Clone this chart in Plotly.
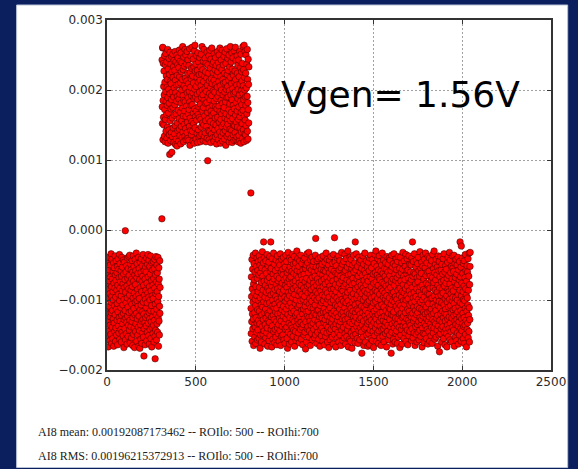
import numpy as np
import plotly.graph_objects as go

# ---- data (AI8 samples, values in units of 1e-5 V) ----
Y_UNIT = 1e-5

seg1_x0 = 0
seg1_y = [
    -112, -45, -153, -78, -131, -62, -98, -167, -39, -120, -85, -144, -57, -109, -73, -158, -91, -136, -50, -124,
    -67, -149, -103, -34, -118, -81, -162, -95, -42, -139, -70, -115, -155, -88, -59, -127, -100, -47, -166, -76,
    -133, -54, -108, -145, -83, -37, -121, -64, -159, -96, -140, -72, -44, -113, -150, -86, -61, -129, -105, -52,
    -164, -79, -117, -41, -137, -92, -56, -147, -68, -125, -35, -101, -156, -83, -48, -130, -74, -111, -142, -58,
    -94, -160, -66, -122, -39, -146, -87, -53, -134, -107, -77, -151, -43, -119, -63, -168, -99, -128, -46, -82,
    -141, -71, -115, -1, -157, -89, -126, -60, -104, -148, -51, -132, -80, -163, -97, -40, -123, -69, -110, -152,
    -55, -136, -84, -38, -118, -65, -143, -93, -36, -129, -75, -161, -102, -49, -138, -86, -57, -116, -154, -70,
    -106, -44, -131, -81, -165, -60, -125, -97, -37, -149, -73, -112, -52, -140, -90, -168, -64, -121, -42, -103,
    -78, -145, -58, -134, -95, -33, -119, -159, -68, -101, -48, -127, -85, -150, -62, -109, -139, -39, -92, -166,
    -123, -55, -98, -144, -71, -169, -114, -46, -135, -82, -156, -61, -107, -41, -130, -88, -162, -74, -117, -51,
    -147, -66, -128, -35, -103, -153, -79, -120, -180, -58, -141, -93, -44, -132, -70, -164, -99, -53, -125, -86,
    -60, -137, -111, -40, -158, -76, -104, -146, -49, -122, -90, -35, -133, -67, -151, -96, -43, -118, -163, -81,
    -127, -52, -100, -142, -63, -115, -37, -155, -87, -131, -72, -108, -167, -47, -139, -94, -57, -124, -79, -148,
    -98, -45, -136, -69, -116, -160, -55, -129, -83, -42, -152, -184, -106, -64, -143, -91, -38, -121, -74, -157,
    -113, -50, -134, -88, -61, -146, -102, -39, -125, -77, -166, -95, -54, -130, -70, -150, -109, -44, -119, -82,
]

seg2_x0 = 309
seg2_y = [
    16, 243, 176, 152, 260, 261, 129, 185, 238, 161, 205,
    150, 227, 193, 134, 249, 172, 211, 126, 236, 158, 198, 252, 141, 183, 220, 165, 240, 131, 204, 178,
    215, 147, 258, 189, 124, 230, 167, 201, 143, 245, 181, 136, 222, 108, 195, 254, 156, 212, 128, 237,
    173, 209, 139, 248, 186, 111, 226, 160, 197, 133, 251, 175, 218, 146, 233, 190, 125, 242, 164, 203,
    137, 228, 179, 255, 149, 214, 122, 196, 240, 166, 130, 207, 184, 250, 120, 221, 153, 191, 236, 142,
    246, 171, 208, 127, 232, 187, 159, 257, 144, 219, 194, 135, 241, 168, 210, 123, 253, 181, 148, 226,
    200, 156, 239, 132, 215, 174, 262, 140, 192, 229, 163, 126, 247, 185, 206, 151, 234, 170, 134, 258,
    183, 217, 145, 202, 250, 162, 129, 237, 177, 213, 139, 255, 196, 154, 224, 131, 243, 189, 166, 209,
    128, 235, 172, 198, 148, 259, 183, 121, 225, 160, 204, 142, 248, 178, 216, 136, 192, 231, 155, 261,
    179, 141, 220, 196, 127, 244, 167, 210, 152, 233, 188, 124, 256, 173, 201, 264, 146, 227, 162, 190,
    237, 130, 205, 170, 249, 157, 218, 138, 194, 228, 125, 186, 253, 165, 211, 143, 240, 176, 132, 222,
    161, 197, 246, 135, 214, 180, 126, 233, 158, 206, 251, 147, 189, 223, 137, 262, 171, 200, 153, 229,
    193, 128, 241, 175, 212, 150, 258, 185, 134, 220, 163, 202, 245, 139, 181, 226, 156, 126, 238, 198,
    148, 217, 182, 254, 131, 207, 168, 99, 236, 190, 142, 224, 159, 249, 174, 129, 213, 195, 141, 257,
    186, 231, 155, 203, 125, 244, 170, 216, 137, 192, 260, 164, 209, 146, 237, 178, 132, 225, 199, 152,
    240, 167, 127, 214, 184, 252, 143, 197, 229, 160, 133, 246, 176, 208, 150, 235, 188, 123, 221, 173,
    136, 204, 255, 161, 226, 191, 145, 239, 129, 212, 177, 250, 154, 196, 232, 140, 260, 169, 206, 124,
    219, 158, 185, 243, 134, 200, 166, 229, 148, 257, 181, 127, 215, 193, 139, 236, 171, 210, 152, 248,
    175, 130, 224, 197, 160, 254, 142, 211, 183, 121, 238, 166, 201, 147, 259, 189, 134, 222, 157, 205,
    245, 151, 190, 228, 137, 214, 172, 250, 126, 199, 163, 233, 180, 144, 218, 262, 156, 193, 131, 240,
    168, 209, 142, 253, 186, 125, 230, 159, 202, 246, 136, 178, 221, 150, 195, 128, 256, 173, 212, 149,
    227, 139, 197, 261, 164, 215, 129, 242, 182, 154, 207, 133, 249, 170, 224, 147, 188, 236, 126, 201,
    158, 243, 176, 135, 219, 193, 127, 255, 162, 208, 145, 232, 184, 124, 251, 168, 199, 140, 226, 179,
    213, 152, 238, 131, 195, 262, 171, 206, 143, 229, 186, 126, 264, 163, 218, 137, 200, 255, 157, 190,
    136, 224, 178, 250, 149, 203, 128, 237, 166, 191, 258, 141, 215, 182, 130, 244, 172, 208, 153, 233,
]

seg3_x0 = 810
seg3_y = [
    53, -112, -148, -67, -95, -131, -42, -159, -84, -120, -56, -141, -103, -36, -127, -77, -165, -90, -48, -136,
    -71, -118, -153, -60, -99, -139, -33, -108, -162, -81, -125, -52, -146, -94, -40, -133, -69, -157, -114, -58,
    -143, -88, -45, -129, -101, -64, -155, -37, -116, -82, -134, -50, -169, -97, -61, -150, -123, -43, -107, -75,
    -160, -54, -121, -92, -138, -31, -110, -66, -149, -86, -128, -47, -17, -102, -144, -73, -118, -39, -163, -96,
    -57, -135, -79, -113, -154, -44, -126, -89, -62, -147, -105, -35, -140, -72, -119, -166, -83, -51, -130, -98,
    -121, -46, -158, -87, -68, -132, -104, -38, -151, -76, -115, -59, -17, -93, -142, -55, -124, -80, -167, -109,
    -41, -137, -74, -100, -156, -63, -122, -90, -33, -145, -111, -70, -128, -49, -161, -85, -106, -142, -58, -117,
    -95, -153, -43, -131, -78, -112, -164, -66, -99, -37, -140, -84, -120, -54, -148, -73, -135, -46, -103, -159,
    -69, -126, -88, -50, -144, -107, -34, -119, -165, -81, -130, -60, -97, -152, -42, -114, -76, -138, -91, -56,
    -150, -64, -123, -39, -109, -86, -157, -71, -134, -48, -117, -96, -162, -53, -141, -79, -102, -36, -127, -68,
    -113, -45, -139, -82, -155, -61, -98, -169, -74, -121, -32, -146, -89, -108, -57, -133, -70, -163, -94, -40,
    -125, -77, -53, -149, -104, -67, -136, -43, -118, -87, -160, -59, -111, -140, -35, -97, -128, -75, -152, -49,
    -84, -143, -62, -116, -38, -131, -92, -166, -55, -105, -73, -145, -47, -122, -81, -158, -100, -64, -137, -30,
    -119, -58, -154, -86, -41, -129, -110, -68, -147, -94, -52, -134, -76, -161, -107, -44, -124, -88, -60, -142,
    -101, -36, -132, -79, -156, -65, -115, -92, -48, -139, -71, -120, -164, -57, -99, -135, -42, -113, -83, -150,
    -63, -127, -95, -40, -146, -74, -109, -55, -170, -87, -131, -50, -117, -160, -69, -103, -34, -141, -80, -122,
    -47, -138, -90, -116, -61, -153, -32, -125, -78, -106, -144, -54, -98, -130, -72, -165, -43, -111, -89, -136,
    -85, -57, -148, -102, -39, -123, -68, -157, -94, -51, -133, -112, -76, -45, -142, -82, -119, -60, -154, -97,
    -128, -66, -107, -36, -150, -12, -88, -121, -53, -138, -79, -162, -100, -44, -115, -70, -146, -91, -58, -131,
    -41, -114, -156, -75, -97, -135, -52, -124, -83, -166, -62, -108, -39, -143, -87, -120, -56, -151, -73, -104,
    -140, -49, -126, -93, -64, -159, -81, -37, -117, -101, -145, -58, -132, -70, -112, -164, -46, -95, -128, -77,
    -59, -152, -86, -118, -33, -136, -105, -67, -147, -42, -123, -90, -160, -54, -99, -139, -74, -114, -50, -168,
    -96, -130, -61, -43, -145, -80, -111, -157, -69, -125, -38, -103, -142, -85, -56, -133, -119, -65, -153, -91,
    -48, -127, -73, -163, -100, -35, -138, -84, -116, -59, -149, -11, -94, -122, -46, -141, -78, -107, -167, -62,
    -134, -88, -51, -119, -97, -155, -70, -40, -129, -109, -63, -146, -82, -124, -37, -160, -101, -57, -136, -76,
    -113, -44, -150, -92, -66, -131, -106, -165, -54, -120, -85, -32, -143, -72, -99, -127, -49, -158, -87, -117,
    -68, -139, -102, -45, -124, -80, -154, -60, -111, -35, -148, -93, -128, -58, -163, -77, -104, -41, -135, -96,
    -152, -71, -117, -53, -143, -89, -30, -126, -101, -167, -64, -137, -82, -48, -120, -156, -74, -108, -39, -132,
    -86, -159, -63, -112, -42, -147, -95, -121, -55, -169, -78, -103, -134, -50, -116, -69, -151, -91, -36, -125,
    -60, -142, -99, -76, -130, -47, -161, -107, -17, -118, -84, -149, -57, -125, -34, -97, -138, -70, -113, -155,
    -93, -52, -133, -81, -162, -66, -115, -39, -144, -104, -75, -128, -46, -157, -88, -120, -61, -140, -98, -43,
    -126, -79, -146, -109, -55, -176, -91, -136, -65, -118, -37, -153, -83, -100, -130, -49, -165, -72, -111, -58,
    -141, -87, -33, -122, -96, -160, -62, -115, -78, -139, -44, -106, -150, -68, -127, -90, -53, -134, -103, -166,
    -73, -119, -46, -148, -85, -131, -58, -101, -164, -40, -124, -93, -143, -67, -112, -36, -155, -81, -129, -97,
    -54, -137, -110, -70, -158, -42, -120, -89, -145, -63, -104, -168, -76, -132, -48, -116, -95, -151, -35, -124,
    -86, -61, -140, -102, -30, -127, -74, -159, -113, -52, -135, -88, -64, -147, -98, -41, -121, -79, -162, -57,
    -109, -144, -68, -37, -131, -92, -154, -71, -118, -45, -138, -100, -59, -165, -84, -126, -50, -107, -142, -75,
    -33, -117, -87, -152, -62, -129, -96, -43, -141, -110, -77, -160, -55, -123, -90, -137, -66, -99, -148, -47,
    -132, -80, -115, -56, -167, -94, -38, -124, -71, -145, -103, -60, -136, -85, -49, -119, -157, -78, -111, -40,
    -97, -150, -65, -128, -43, -113, -82, -139, -58, -106, -176, -74, -121, -36, -146, -91, -53, -134, -101, -163,
    -70, -122, -48, -156, -89, -117, -34, -140, -79, -103, -63, -131, -160, -51, -95, -126, -72, -148, -41, -109,
    -144, -57, -99, -135, -68, -162, -45, -114, -86, -127, -38, -153, -76, -105, -64, -139, -93, -120, -55, -168,
    -83, -130, -39, -108, -150, -73, -119, -61, -142, -96, -47, -163, -88, -125, -56, -112, -32, -137, -78, -101,
    -123, -66, -155, -90, -44, -132, -106, -71, -147, -52, -118, -84, -138, -35, -100, -159, -62, -127, -94, -58,
    -41, -143, -80, -113, -164, -57, -98, -129, -69, -151, -37, -116, -87, -133, -49, -107, -145, -75, -122, -60,
    -136, -92, -50, -124, -71, -158, -104, -40, -141, -82, -17, -119, -66, -154, -97, -45, -130, -110, -61, -147,
    -89, -34, -126, -102, -165, -63, -115, -77, -138, -53, -95, -149, -43, -121, -84, -160, -68, -109, -135, -48,
    -118, -74, -146, -39, -99, -131, -58, -157, -88, -112, -66, -143, -31, -125, -81, -103, -152, -55, -136, -93,
    -62, -128, -46, -114, -167, -79, -140, -100, -52, -123, -36, -148, -85, -117, -70, -161, -96, -42, -133, -107,
    -149, -54, -120, -87, -33, -137, -65, -110, -155, -76, -127, -47, -101, -142, -60, -118, -91, -163, -38, -130,
    -78, -105, -145, -59, -124, -92, -40, -159, -83, -116, -66, -134, -50, -98, -151, -72, -113, -139, -44, -121,
    -97, -162, -68, -35, -128, -106, -82, -147, -55, -119, -75, -140, -30, -94, -131, -61, -156, -110, -86, -49,
    -134, -71, -115, -153, -42, -100, -126, -64, -143, -89, -53, -122, -166, -79, -108, -37, -137, -95, -58, -150,
    -102, -45, -174, -83, -129, -67, -111, -148, -38, -120, -93, -57, -141, -74, -160, -104, -49, -132, -85, -116,
    -63, -138, -90, -41, -125, -155, -72, -107, -34, -146, -80, -119, -60, -164, -98, -130, -51, -113, -142, -76,
    -121, -56, -148, -94, -167, -69, -103, -136, -46, -127, -85, -39, -152, -110, -65, -141, -88, -124, -32, -99,
    -157, -77, -43, -133, -108, -61, -145, -91, -118, -52, -160, -83, -126, -70, -101, -37, -139, -96, -54, -114,
    -87, -143, -59, -122, -36, -105, -166, -74, -130, -48, -112, -153, -68, -97, -135, -42, -120, -81, -158, -63,
    -128, -50, -100, -147, -78, -117, -39, -137, -92, -163, -57, -109, -131, -71, -150, -45, -124, -86, -17, -104,
    -67, -141, -115, -53, -159, -23, -94, -127, -76, -144, -40, -106, -134, -62, -119, -88, -155, -48, -99, -138,
    -80, -125, -44, -162, -101, -68, -136, -112, -35, -149, -84, -58, -129, -93, -167, -73, -116, -51, -142, -97,
    -60, -133, -107, -41, -154, -86, -122, -66, -145, -33, -111, -160, -78, -128, -52, -32,
]

x_tick_vals = [0, 500, 1000, 1500, 2000, 2500]
y_tick_vals = [-0.002, -0.001, 0.0, 0.001, 0.002, 0.003]

title_text = "Vgen= 1.56V"
info_lines = [
    "AI8 mean: 0.00192087173462 -- ROIlo: 500 -- ROIhi:700",
    "AI8 RMS: 0.00196215372913 -- ROIlo: 500 -- ROIhi:700",
]

# ---- assemble ----
xs, ys = [], []
for x0, seg in ((seg1_x0, seg1_y), (seg2_x0, seg2_y), (seg3_x0, seg3_y)):
    xs.extend(range(x0, x0 + len(seg)))
    ys.extend(v * Y_UNIT for v in seg)

W, H = 578, 469
L, R, T, B = 107, 19, 20, 99
pw, ph = W - L - R, H - T - B


def px_x(p):
    return (p - L) / pw


def px_y(p):
    return (H - B - p) / ph


fig = go.Figure()
fig.add_trace(go.Scatter(
    x=xs, y=ys, mode="markers",
    marker=dict(size=6.5, color="#ff0000", line=dict(color="#300000", width=0.5)),
    hoverinfo="skip", showlegend=False,
))

axis_common = dict(
    showline=True, linecolor="#333333", linewidth=1.5, mirror="ticks",
    ticks="inside", ticklen=4, tickwidth=1, tickcolor="#333333",
    showgrid=True, gridcolor="#a0a0a0", gridwidth=1, griddash="2px,2px",
    zeroline=False,
    tickfont=dict(family="DejaVu Sans", size=12, color="#2a2a2a"),
)

fig.update_xaxes(range=[0, 2500], tickvals=x_tick_vals,
                 ticktext=[str(v) for v in x_tick_vals], **axis_common)
fig.update_yaxes(range=[-0.002, 0.003], tickvals=y_tick_vals, tickformat=".3f",
                 ticklabelstandoff=0, **axis_common)

shapes = [
    dict(type="rect", xref="paper", yref="paper", layer="below",
         x0=px_x(15), x1=px_x(576), y0=px_y(467.5), y1=px_y(5),
         fillcolor="#ffffff", line=dict(color="#b9c3d6", width=1)),
]

annotations = [
    dict(text=title_text, xref="x", yref="y", x=967, y=0.00193,
         xanchor="left", yanchor="middle", showarrow=False,
         font=dict(family="DejaVu Sans", size=36, color="#000000")),
]
for i, line in enumerate(info_lines):
    annotations.append(dict(
        text=line, xref="paper", yref="paper", x=px_x(35), y=px_y(432 + 23.5 * i),
        xanchor="left", yanchor="middle", showarrow=False,
        font=dict(family="Liberation Serif", size=12, color="#222222")))

fig.update_layout(
    width=W, height=H, margin=dict(l=L, r=R, t=T, b=B, pad=0),
    paper_bgcolor="#0b1f5e", plot_bgcolor="#ffffff",
    shapes=shapes, annotations=annotations, showlegend=False,
)

fig.write_html("out.html")
